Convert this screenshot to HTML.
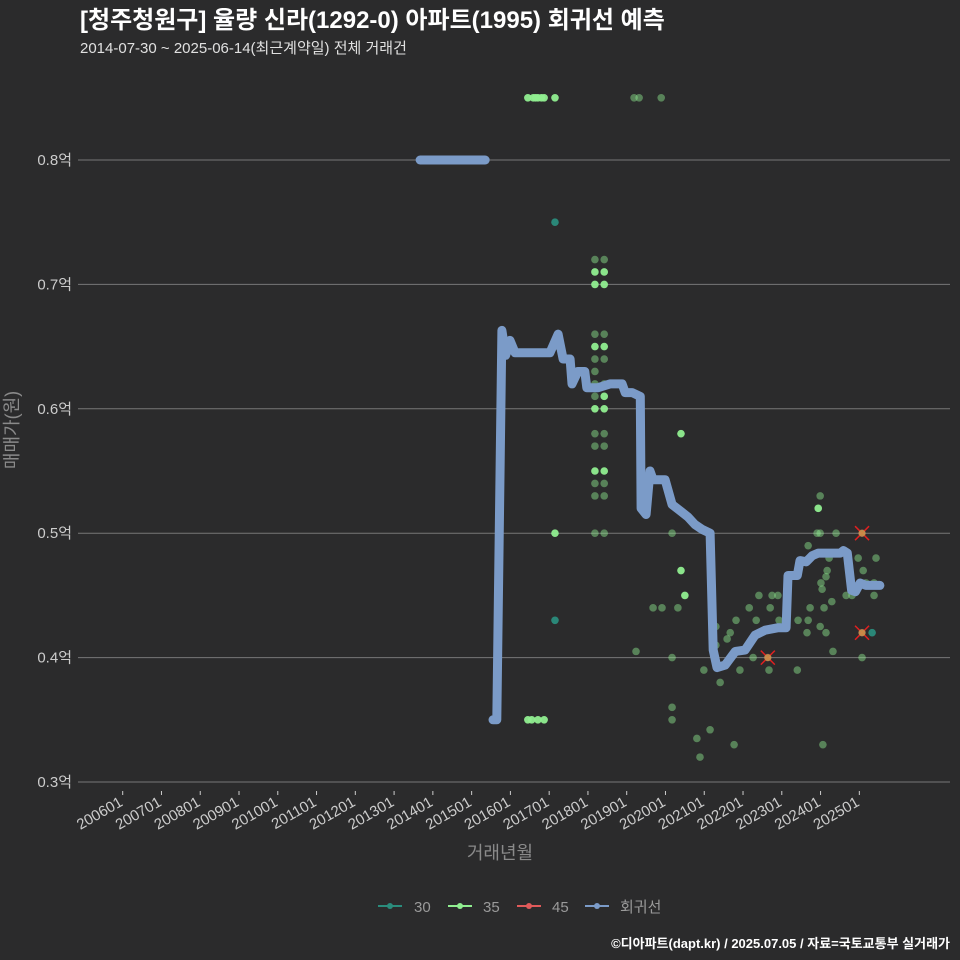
<!DOCTYPE html>
<html><head><meta charset="utf-8"><style>
body{margin:0;background:#2b2b2c;}
svg{display:block;font-family:"Liberation Sans","Noto Sans CJK KR",sans-serif;}
</style></head><body>
<svg id="chart" width="960" height="960" xmlns="http://www.w3.org/2000/svg">
<rect width="960" height="960" fill="#2b2b2c"/>
<text x="80" y="28" font-size="24" font-weight="bold" fill="#ffffff">[청주청원구] 율량 신라(1292-0) 아파트(1995) 회귀선 예측</text>
<text x="80" y="53" font-size="15" fill="#e0e0e0">2014-07-30 ~ 2025-06-14(최근계약일) 전체 거래건</text>
<g id="grid"></g>
<g id="xaxis"></g>
<g id="marks"></g>
<text x="18" y="430" font-size="18" fill="#8a8a8a" text-anchor="middle" transform="rotate(-90 18 430)">매매가(원)</text>
<text x="500" y="859" font-size="18" fill="#8a8a8a" text-anchor="middle">거래년월</text>
<g font-size="15" fill="#9a9a9a">
 <g><line x1="378" y1="906" x2="402" y2="906" stroke="#2a8c7c" stroke-width="2"/><circle cx="390" cy="906" r="3" fill="#2a8c7c"/><text x="414" y="912">30</text></g>
 <g><line x1="448" y1="906" x2="472" y2="906" stroke="#90ee90" stroke-width="2"/><circle cx="460" cy="906" r="3" fill="#90ee90"/><text x="483" y="912">35</text></g>
 <g><line x1="517" y1="906" x2="541" y2="906" stroke="#e05a5a" stroke-width="2"/><circle cx="529" cy="906" r="3" fill="#e05a5a"/><text x="552" y="912">45</text></g>
 <g><line x1="585" y1="906" x2="609" y2="906" stroke="#7b9bc8" stroke-width="2"/><circle cx="597" cy="906" r="3" fill="#7b9bc8"/><text x="620" y="912">회귀선</text></g>
</g>
<text x="950" y="948" font-size="13" font-weight="bold" fill="#ffffff" text-anchor="end">©디아파트(dapt.kr) / 2025.07.05 / 자료=국토교통부 실거래가</text>
</svg>
<script>
const yTicks=[0.3,0.4,0.5,0.6,0.7,0.8];
const yTickLabels=["0.3억","0.4억","0.5억","0.6억","0.7억","0.8억"];
const xTickYears=[2006,2007,2008,2009,2010,2011,2012,2013,2014,2015,2016,2017,2018,2019,2020,2021,2022,2023,2024,2025];
const xTickLabels=["200601","200701","200801","200901","201001","201101","201201","201301","201401","201501","201601","201701","201801","201901","202001","202101","202201","202301","202401","202501"];
// regression line (null = gap)
const lineDates=[2013.67,2015.35,null,2015.55,2015.65,2015.78,2015.88,2015.99,2016.12,2016.25,2017.02,2017.23,2017.36,2017.54,2017.59,2017.74,2017.92,2017.97,2018.26,2018.57,2018.88,2018.96,2019.14,2019.35,2019.37,2019.50,2019.60,2019.68,2019.99,2020.17,2020.38,2020.58,2020.76,2020.95,2021.15,2021.23,2021.33,2021.54,2021.80,2022.05,2022.31,2022.57,2022.91,2023.11,2023.16,2023.40,2023.47,2023.63,2023.79,2023.94,2024.51,2024.59,2024.69,2024.80,2024.90,2025.02,2025.17,2025.53];
const lineValues=[0.80,0.80,null,0.35,0.35,0.663,0.643,0.655,0.645,0.645,0.645,0.66,0.64,0.64,0.62,0.63,0.63,0.617,0.617,0.62,0.62,0.613,0.613,0.61,0.52,0.515,0.55,0.543,0.543,0.523,0.518,0.513,0.507,0.503,0.50,0.406,0.392,0.394,0.405,0.406,0.418,0.422,0.424,0.424,0.466,0.466,0.478,0.477,0.482,0.484,0.484,0.486,0.484,0.454,0.453,0.46,0.458,0.458];
// scatter: date, value, size group, bright(1)/dim(0)
const ptDates=[2016.45,2016.59,2016.65,2016.71,2016.80,2016.87,2017.15,2016.45,2016.55,2016.71,2016.87,2017.15,2017.15,2017.15,2019.19,2019.32,2019.89,
2018.18,2018.18,2018.18,2018.18,2018.18,2018.18,2018.18,2018.18,2018.18,2018.18,2018.18,2018.18,2018.18,2018.18,2018.18,2018.18,
2018.42,2018.42,2018.42,2018.42,2018.42,2018.42,2018.42,2018.42,2018.42,2018.42,2018.42,2018.42,2018.42,2018.42,2018.42,
2019.24,2019.68,2019.91,2020.17,2020.17,2020.17,2020.17,2020.32,2020.40,2020.40,2020.50,2020.81,2020.89,2020.99,2021.15,2021.30,2021.30,2021.41,2021.59,2021.67,2021.77,2021.82,2021.92,2022.16,2022.26,2022.34,2022.41,2022.64,2022.67,2022.70,2022.75,2022.90,2022.93,2023.40,2023.42,2023.65,2023.68,2023.68,2023.73,2023.94,2023.99,2023.91,2023.99,2024.01,2024.04,2023.99,2024.06,2024.09,2024.14,2024.14,2024.17,2024.22,2024.29,2024.32,2024.40,2024.66,2024.81,2024.97,2025.07,2025.07,2025.10,2025.07,2025.17,2025.33,2025.38,2025.43,2025.38];
const ptValues=[0.85,0.85,0.85,0.85,0.85,0.85,0.85,0.35,0.35,0.35,0.35,0.75,0.43,0.50,0.85,0.85,0.85,
0.72,0.71,0.70,0.66,0.65,0.64,0.63,0.62,0.61,0.60,0.58,0.57,0.55,0.54,0.53,0.50,
0.72,0.71,0.70,0.66,0.65,0.64,0.62,0.61,0.60,0.58,0.55,0.54,0.53,0.50,0.57,
0.405,0.44,0.44,0.50,0.40,0.36,0.35,0.44,0.58,0.47,0.45,0.335,0.32,0.39,0.342,0.425,0.41,0.38,0.415,0.42,0.33,0.43,0.39,0.44,0.40,0.43,0.45,0.40,0.39,0.44,0.45,0.45,0.43,0.39,0.43,0.42,0.49,0.43,0.44,0.52,0.53,0.50,0.50,0.46,0.455,0.425,0.33,0.44,0.42,0.465,0.47,0.48,0.445,0.405,0.50,0.45,0.45,0.48,0.50,0.42,0.47,0.40,0.46,0.42,0.46,0.48,0.45];
const ptGroups=[35,35,35,35,35,35,35,35,35,35,35,30,30,35,35,35,35,
35,35,35,35,35,35,35,35,35,35,35,35,35,35,35,35,
35,35,35,35,35,35,35,35,35,35,35,35,35,35,35,
35,35,35,35,35,35,35,35,35,35,35,35,35,35,35,35,35,35,35,35,35,35,35,35,35,35,35,45,35,35,35,35,35,35,35,35,35,35,35,35,35,35,35,35,35,35,35,35,35,35,35,35,35,35,35,35,35,35,45,45,35,35,35,30,35,35,35];
const ptBright=[1,1,1,1,1,1,1,1,1,1,1,1,1,1,0,0,0,
0,1,1,0,1,0,0,0,0,1,0,0,1,0,0,0,
0,1,1,0,1,0,0,1,1,0,1,0,0,0,0,
0,0,0,0,0,0,0,0,1,1,1,0,0,0,0,0,0,0,0,0,0,0,0,0,0,0,0,0,0,0,0,0,0,0,0,0,0,0,0,1,0,0,0,0,0,0,0,0,0,0,0,0,0,0,0,0,0,0,0,0,0,0,0,1,0,0,0];
const NS="http://www.w3.org/2000/svg";
const X0=122.7,XPY=38.77,Y0=782,YPU=1244;
function sx(d){return X0+(d-2006)*XPY;}
function sy(v){return Y0-(v-0.3)*YPU;}
const grid=document.getElementById('grid'),xa=document.getElementById('xaxis'),marks=document.getElementById('marks');
function mk(tag,attrs,parent){const e=document.createElementNS(NS,tag);for(const k in attrs)e.setAttribute(k,attrs[k]);parent.appendChild(e);return e;}
yTicks.forEach((v,i)=>{
 const l=mk('line',{x1:78,x2:950,y1:sy(v),y2:sy(v),stroke:'#777',"stroke-width":1},grid);
 
 
 const t=mk('text',{x:72,y:sy(v)+5,"text-anchor":"end","font-size":15,fill:'#cccccc'},grid);
 t.textContent=yTickLabels[i];
 
 
});
xTickYears.forEach((d,i)=>{
 const x=sx(d);
 const tk=mk('line',{x1:x,x2:x,y1:791,y2:795,stroke:'#ccc',"stroke-width":1},xa);
 
 
 const t=mk('text',{x:x+1,y:805,"text-anchor":"end","font-size":15,fill:'#cccccc',transform:`rotate(-30 ${x+1} 805)`},xa);
 t.textContent=xTickLabels[i];
 
 
});
const colors={30:'#2a8c7c',35:'#90ee90',45:'#e05a5a'};
ptDates.forEach((d,i)=>{
 const c=mk('circle',{cx:sx(d),cy:sy(ptValues[i]),r:3.8,fill:colors[ptGroups[i]],"fill-opacity":ptBright[i]?0.95:0.45},marks);
 
 
});
let segs=[[]];
lineDates.forEach((d,i)=>{
 if(d===null||lineValues[i]===null){segs.push([]);return;}
 segs[segs.length-1].push(sx(d).toFixed(1)+','+sy(lineValues[i]).toFixed(1));
});
segs.forEach(s=>{
 if(!s.length)return;
 const pl=mk('polyline',{points:s.join(' '),fill:'none',stroke:'#7b9bc8',"stroke-width":9,"stroke-linejoin":"round","stroke-linecap":"round"},marks);
 
 
});
ptDates.forEach((d,i)=>{
 if(ptGroups[i]!==45)return;
 const x=sx(d),y=sy(ptValues[i]);
 const g=mk('path',{d:`M${x-7},${y-7}L${x+7},${y+7}M${x+7},${y-7}L${x-7},${y+7}`,stroke:'#e02020',"stroke-width":1.5},marks);
 
 
 const c=mk('circle',{cx:x,cy:y,r:3.5,fill:'#c8a050',"fill-opacity":0.8},marks);
 
 
});
</script>
</body></html>
